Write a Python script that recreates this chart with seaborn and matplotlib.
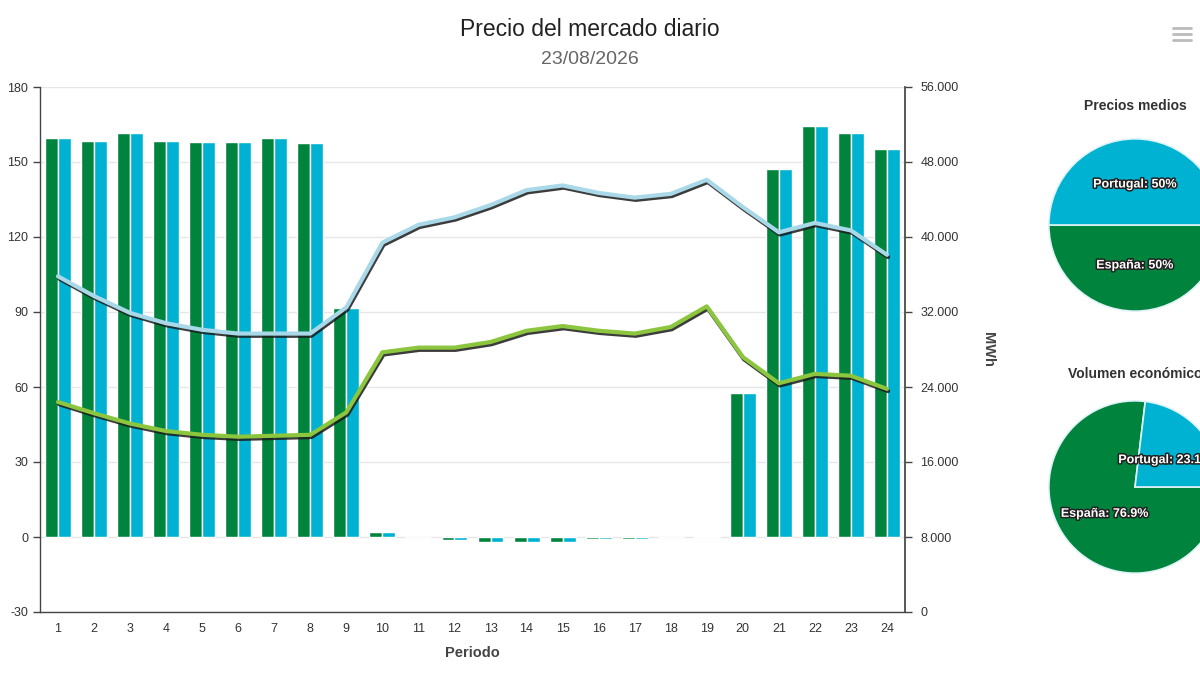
import numpy as np
import pandas as pd
import matplotlib.pyplot as plt
import matplotlib.patheffects as pe
from matplotlib.lines import Line2D
from matplotlib.ticker import FuncFormatter, MultipleLocator
import seaborn as sns

sns.set_theme(style="white")
plt.rcParams['font.family'] = ['Liberation Sans', 'DejaVu Sans']
plt.rcParams['axes.unicode_minus'] = False

# Datos
periodos = list(range(1, 25))
precio_espana = [159.5, 158.5, 161.5, 158.5, 158, 158, 159.5, 157.5, 91.5, 2,
                 0, -1, -2, -2, -2, -0.8, -0.8, 0, 0.6, 57.5,
                 147, 164.5, 161.5, 155]
precio_portugal = [159.5, 158.5, 161.5, 158.5, 158, 158, 159.5, 157.5, 91.5, 2,
                   0, -1, -2, -2, -2, -0.8, -0.8, 0, 0.6, 57.5,
                   147, 164.5, 161.5, 155]
energia_iberica = [35800, 33700, 31900, 30800, 30100, 29700, 29700, 29700, 32500, 39400,
                   41300, 42100, 43400, 45000, 45500, 44700, 44200, 44600, 46100, 43200,
                   40500, 41500, 40700, 38100]
energia_espana = [22400, 21200, 20100, 19300, 18900, 18700, 18800, 18900, 21300, 27700,
                  28200, 28200, 28800, 30000, 30500, 30000, 29700, 30400, 32600, 27200,
                  24400, 25400, 25200, 23800]
paises = ["España", "Portugal"]
cuota_precios = [50, 50]
cuota_volumen = [76.9, 23.1]

verde = "#00843d"
cian = "#00b2d2"

df = pd.DataFrame({
    'Periodo': periodos * 2,
    'País': [paises[0]] * 24 + [paises[1]] * 24,
    'Precio': precio_espana + precio_portugal,
})

fig = plt.figure(figsize=(12, 6.75), dpi=100)
ax = fig.add_axes([40 / 1200, 63 / 675, 865 / 1200, 525 / 675])

# Barras de precio
sns.barplot(data=df, x='Periodo', y='Precio', hue='País', order=periodos,
            palette=[verde, cian], saturation=1, width=0.72, edgecolor='white', linewidth=1,
            legend=False, ax=ax, zorder=3)
ax.set_xlim(-0.5, 23.5)
ax.set_ylim(-30, 180)
ax.yaxis.set_major_locator(MultipleLocator(30))
ax.grid(axis='y', color='#e6e6e6', linewidth=1, zorder=0)
ax.set_axisbelow(True)
ax.set_ylabel('')
ax.set_xlabel('Periodo', fontsize=10.5, fontweight='bold', color='#444444', labelpad=8)
for s in ['top', 'right']:
    ax.spines[s].set_visible(False)
for s in ['left', 'bottom']:
    ax.spines[s].set_color('#444444')
    ax.spines[s].set_linewidth(1)
ax.set_xticks(range(24))
ax.set_xticklabels([str(p) for p in periodos])
ax.set_xticks(np.arange(-0.5, 24, 1), minor=True)
ax.tick_params(axis='x', which='major', length=0, pad=8, labelsize=9, labelcolor='#333333')
ax.tick_params(axis='x', which='minor', length=5, width=1, color='#444444', direction='out')
ax.tick_params(axis='y', length=5, width=1, color='#444444', direction='out',
               labelsize=9, labelcolor='#333333', left=True)

# Lineas de energia
ax2 = ax.twinx()
x = np.arange(24)
sombra = [pe.SimpleLineShadow(offset=(0.8, -1.6), shadow_color='#1a1a1a', alpha=0.85), pe.Normal()]
sns.lineplot(x=x, y=energia_iberica, ax=ax2, color='#a9d9e8', linewidth=3,
             path_effects=sombra)
sns.lineplot(x=x, y=energia_espana, ax=ax2, color='#8cc63f', linewidth=3,
             path_effects=sombra)
ax2.set_xlim(-0.5, 23.5)
ax2.set_ylim(0, 56000)
ax2.yaxis.set_major_locator(MultipleLocator(8000))
ax2.yaxis.set_major_formatter(FuncFormatter(lambda v, p: f"{v:,.0f}".replace(",", ".")))
ax2.tick_params(axis='y', length=5, width=1, color='#444444', direction='out',
                labelsize=9, labelcolor='#333333', right=True, pad=6)
for s in ['top', 'left', 'bottom']:
    ax2.spines[s].set_visible(False)
ax2.spines['right'].set_color('#444444')
ax2.set_ylabel('MWh', rotation=270, fontsize=10.5, fontweight='bold', color='#444444',
               va='center')
ax2.yaxis.set_label_coords(1.096, 0.5)

# Titulos
fig.text(590 / 1200, 1 - 30 / 675, 'Precio del mercado diario', ha='center', va='center',
         fontsize=16.5, color='#222222')
fig.text(590 / 1200, 1 - 60 / 675, '23/08/2026', ha='center', va='center',
         fontsize=14, color='#666666')

# Menu
for yy in [28, 34, 40]:
    fig.add_artist(Line2D([1173 / 1200, 1191 / 1200], [1 - yy / 675, 1 - yy / 675],
                          color='#bbbbbb', linewidth=2))

# Tartas
contorno = [pe.withStroke(linewidth=2.2, foreground='#222222')]


def tarta(pos, valores, titulo, ty):
    axp = fig.add_axes(pos)
    etiquetas = [f"{n}: {v:g}%" for n, v in zip(paises, valores)]
    wedges, textos = axp.pie(valores, colors=[verde, cian], startangle=0, counterclock=False,
                             labels=etiquetas, labeldistance=0.47,
                             wedgeprops=dict(edgecolor='#dff4f8', linewidth=1.2))
    for t in textos:
        t.set_ha('center')
        t.set_va('center')
        t.set_color('white')
        t.set_fontsize(9)
        t.set_fontweight('bold')
        t.set_path_effects(contorno)
    axp.set_xlim(-1.01, 1.01)
    axp.set_ylim(-1.01, 1.01)
    fig.text(1135 / 1200, 1 - ty / 675, titulo, ha='center', va='center',
             fontsize=10, fontweight='bold', color='#333333')


tarta([1048 / 1200, 363 / 675, 174 / 1200, 174 / 675], cuota_precios, 'Precios medios', 106)
tarta([1048 / 1200, 101 / 675, 174 / 1200, 174 / 675], cuota_volumen, 'Volumen económico', 374)

fig.savefig('out.png', dpi=100)
